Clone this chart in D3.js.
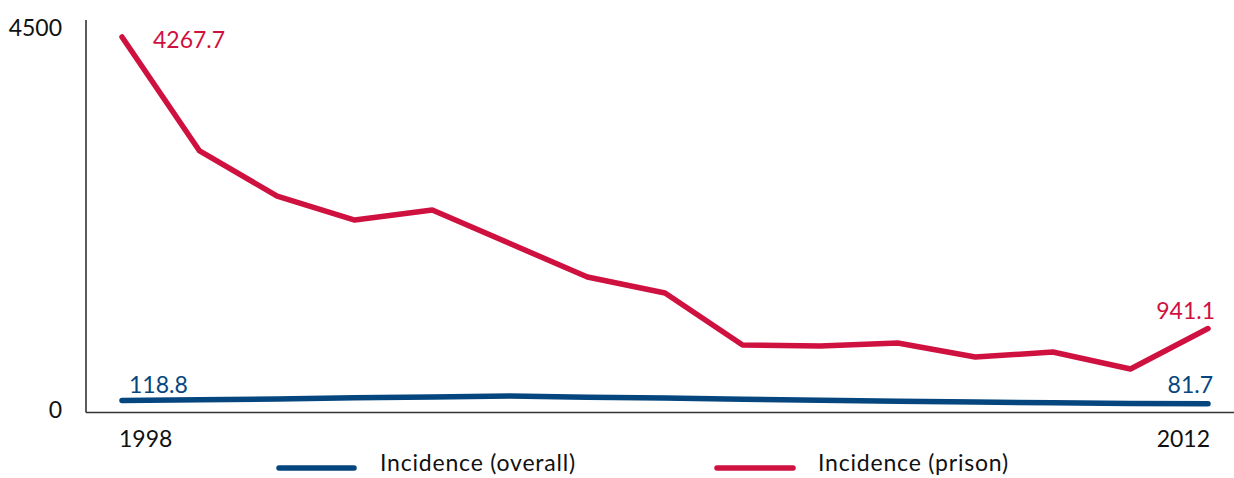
<!DOCTYPE html>
<html>
<head>
<meta charset="utf-8">
<script src="https://cdn.jsdelivr.net/npm/d3@7"></script>
<style>
  html, body { margin: 0; padding: 0; background: #fff; }
  svg { display: block; font-family: "Lato", "Open Sans", sans-serif; }
</style>
</head>
<body>
<svg id="chart" width="1234" height="478"></svg>
<script>
const years = [1998,1999,2000,2001,2002,2003,2004,2005,2006,2007,2008,2009,2010,2011,2012];
const prisonIncidence = [4267.7,2967,2453,2179,2294,1911,1529,1346,753,742,776,616,673,479,941.1];
const overallIncidence = [118.8,127,138,150,160,170,158,147,134,122,112,102,93,86,81.7];
const yTickValues = [0, 4500];
const xTickLabels = ["1998", "2012"];
const seriesNames = ["Incidence (overall)", "Incidence (prison)"];

const RED = "#cf1140";
const BLUE = "#05467e";
const AXIS = "#333333";

const svg = d3.select("#chart");

const x = d3.scaleLinear().domain([years[0], years[years.length - 1]]).range([122, 1208]);
const y = d3.scaleLinear().domain([0, 4500]).range([411, 411 - 4500 * 374 / 4267.7]);

// axes lines
svg.append("line").attr("x1", 86).attr("x2", 86).attr("y1", 20).attr("y2", 412.5)
  .attr("stroke", AXIS).attr("stroke-width", 1.6);
svg.append("line").attr("x1", 86).attr("x2", 1234).attr("y1", 412.5).attr("y2", 412.5)
  .attr("stroke", AXIS).attr("stroke-width", 1.6);

// y tick labels
svg.selectAll(".ytick").data(yTickValues).enter().append("text")
  .attr("x", 62)
  .attr("y", d => d === 0 ? y(d) + 7 : y(d) + 19)
  .attr("text-anchor", "end")
  .attr("font-size", 23)
  .attr("fill", "#111")
  .text(d => d);

// x tick labels
svg.append("text").attr("x", x(years[0]) - 3).attr("y", 447)
  .attr("text-anchor", "start").attr("font-size", 23).attr("fill", "#111").text(xTickLabels[0]);
svg.append("text").attr("x", x(years[years.length - 1]) + 2).attr("y", 447)
  .attr("text-anchor", "end").attr("font-size", 23).attr("fill", "#111").text(xTickLabels[1]);

const line = d3.line().x((d, i) => x(years[i])).y(d => y(d));

svg.append("path").datum(prisonIncidence).attr("d", line)
  .attr("fill", "none").attr("stroke", RED).attr("stroke-width", 5.5)
  .attr("stroke-linecap", "round").attr("stroke-linejoin", "round");
svg.append("path").datum(overallIncidence).attr("d", line)
  .attr("fill", "none").attr("stroke", BLUE).attr("stroke-width", 5.5)
  .attr("stroke-linecap", "round").attr("stroke-linejoin", "round");

// value labels
const last = years.length - 1;
svg.append("text").attr("x", x(years[0]) + 31).attr("y", y(prisonIncidence[0]) + 11)
  .attr("font-size", 23).attr("fill", RED).text(prisonIncidence[0].toFixed(1));
svg.append("text").attr("x", x(years[last]) + 7).attr("y", y(prisonIncidence[last]) - 10)
  .attr("text-anchor", "end").attr("font-size", 23).attr("fill", RED).text(prisonIncidence[last].toFixed(1));
svg.append("text").attr("x", x(years[0]) + 7).attr("y", y(overallIncidence[0]) - 8)
  .attr("font-size", 23).attr("fill", BLUE).text(overallIncidence[0].toFixed(1));
svg.append("text").attr("x", x(years[last]) + 5).attr("y", y(overallIncidence[last]) - 11)
  .attr("text-anchor", "end").attr("font-size", 23).attr("fill", BLUE).text(overallIncidence[last].toFixed(1));

// legend
const legend = [
  { name: seriesNames[0], color: BLUE, x1: 279, x2: 354, tx: 380 },
  { name: seriesNames[1], color: RED, x1: 717, x2: 793, tx: 818 }
];
legend.forEach(l => {
  svg.append("line").attr("x1", l.x1).attr("x2", l.x2).attr("y1", 468).attr("y2", 468)
    .attr("stroke", l.color).attr("stroke-width", 5.5).attr("stroke-linecap", "round");
  svg.append("text").attr("x", l.tx).attr("y", 471).attr("font-size", 23)
    .attr("letter-spacing", 0.8).attr("fill", "#111").text(l.name);
});
</script>
</body>
</html>
